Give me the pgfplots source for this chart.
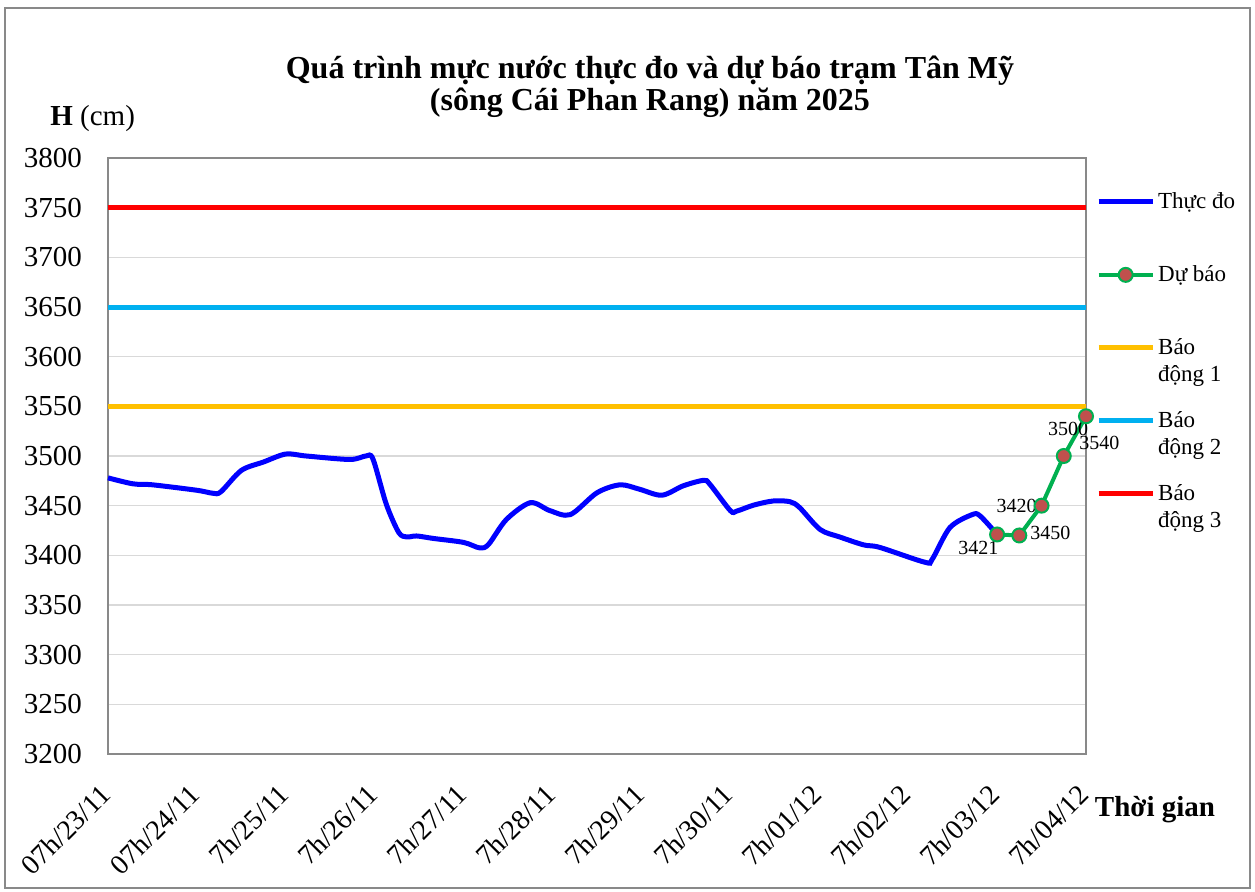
\documentclass[border=0pt]{standalone}
\usepackage{pgfplots}
\pgfplotsset{compat=1.18}
\usepackage{fontspec}
\setmainfont{Liberation Serif}
\definecolor{cblue}{HTML}{0000FF}
\definecolor{cgreen}{HTML}{00B050}
\definecolor{cmark}{HTML}{C0504D}
\definecolor{corange}{HTML}{FFC000}
\definecolor{clblue}{HTML}{00B0F0}
\definecolor{cred}{HTML}{FF0000}
\definecolor{cgrid}{HTML}{D9D9D9}
\definecolor{cframe}{HTML}{898989}
\newcommand{\legtxt}[1]{\parbox[t]{48pt}{#1}}
\begin{document}
\begin{tikzpicture}
\useasboundingbox (0pt,0pt) rectangle (627.5pt,445.5pt);
\draw[cframe, line width=0.8pt] (2.5pt,1.5pt) rectangle (625pt,441.5pt);
\begin{axis}[
  at={(54pt,68.5pt)}, anchor=south west,
  scale only axis, width=489pt, height=298pt,
  xmin=0, xmax=11, ymin=3200, ymax=3800,
  xtick={0,...,11},
  xticklabels={07h/23/11,07h/24/11,7h/25/11,7h/26/11,7h/27/11,7h/28/11,7h/29/11,7h/30/11,7h/01/12,7h/02/12,7h/03/12,7h/04/12},
  ytick distance=50,
  /pgf/number format/assume math mode=true,
  /pgf/number format/1000 sep={},
  major tick length=0pt,
  ymajorgrids, grid style={cgrid, line width=0.6pt},
  axis line style={cframe, line width=0.8pt},
  yticklabel style={font=\fontsize{14.5}{17}\selectfont, xshift=-9.5pt},
  xticklabel style={font=\fontsize{14}{16}\selectfont, rotate=45, anchor=east, xshift=-10pt, yshift=-11.9pt},
  clip=false,
  legend style={draw=none, fill=none, at={(axis description cs:1.010,0.948)}, anchor=north west,
    font=\fontsize{11.5}{13.5}\selectfont, row sep=24pt, inner sep=0pt,
    nodes={inner sep=1.5pt}},
  legend cell align=left,
  legend image code/.code={\draw[mark repeat=2,mark phase=2,#1] plot coordinates {(0pt,0pt) (13.5pt,0pt) (27pt,0pt)};},
]
\addplot[cblue, line width=2.5pt, smooth, tension=0.5] coordinates {
(0,3478) (0.28,3472) (0.5,3471) (1.0,3465.5) (1.18,3462.5) (1.27,3464)
(1.5,3485.5) (1.75,3494) (2.0,3502) (2.23,3500) (2.72,3496.5) (2.9,3500)
(2.98,3497) (3.13,3451.5) (3.27,3423) (3.36,3418.5) (3.47,3419.5) (3.66,3417)
(4.0,3413) (4.18,3407.5) (4.28,3411) (4.48,3436) (4.75,3453) (4.97,3445)
(5.2,3441) (5.5,3463) (5.76,3471) (5.98,3466.5) (6.23,3460.5) (6.47,3470)
(6.70,3475.5) (6.77,3471.5) (7.0,3445) (7.07,3444.5) (7.26,3450.5) (7.48,3454.7)
(7.67,3454) (7.78,3448) (8.01,3426) (8.23,3418.5) (8.5,3410.5) (8.68,3408)
(9.19,3393) (9.27,3396) (9.47,3428) (9.72,3441) (9.81,3439.6) (10.0,3421)
};
\addlegendentry{\legtxt{Thực đo}}
\addplot[cgreen, line width=2pt, mark=*, mark size=3.5pt,
  mark options={fill=cmark, draw=cgreen, line width=1pt}] coordinates {
(10.0,3421) (10.25,3420) (10.5,3450) (10.75,3500) (11.0,3540)
};
\addlegendentry{\legtxt{Dự báo}}
\addplot[corange, line width=2.5pt] coordinates {(0,3550) (11,3550)};
\addlegendentry{\legtxt{Báo\\động 1}}
\addplot[clblue, line width=2.5pt] coordinates {(0,3650) (11,3650)};
\addlegendentry{\legtxt{Báo\\động 2}}
\addplot[cred, line width=2.5pt] coordinates {(0,3750) (11,3750)};
\addlegendentry{\legtxt{Báo\\động 3}}
\begin{scope}[every node/.style={font=\fontsize{10}{12}\selectfont, inner sep=0pt}]
\node at (axis cs:9.79,3407) {3421};
\node at (axis cs:10.60,3422.4) {3450};
\node at (axis cs:10.22,3450) {3420};
\node at (axis cs:10.80,3527.5) {3500};
\node at (axis cs:11.15,3513) {3540};
\end{scope}
\end{axis}
\node[font=\fontsize{16}{16}\selectfont\bfseries, align=center] at (325pt,402pt)
  {Quá trình mực nước thực đo và dự báo trạm Tân Mỹ\\(sông Cái Phan Rang) năm 2025};
\node[font=\fontsize{14.5}{16}\selectfont, anchor=west, inner sep=0pt] at (25pt,386pt) {\textbf{H} (cm)};
\node[font=\fontsize{14.5}{16}\selectfont\bfseries] at (577.5pt,40.5pt) {Thời gian};
\end{tikzpicture}
\end{document}
